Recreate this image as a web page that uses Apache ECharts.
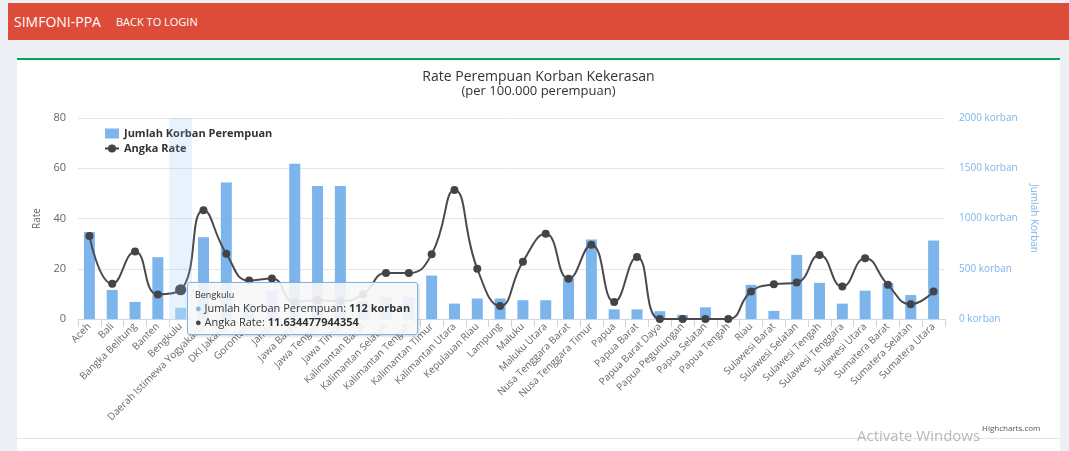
<!DOCTYPE html>
<html>
<head>
<meta charset="utf-8">
<title>Rate Perempuan Korban Kekerasan</title>
<script src="https://cdn.jsdelivr.net/npm/echarts@6/dist/echarts.min.js"></script>
<style>
    html, body { margin: 0; padding: 0; width: 1069px; height: 451px; overflow: hidden; background: #ecf0f5; font-family: "Open Sans", "Liberation Sans", sans-serif; }
    .topbar { position: absolute; left: 8px; top: 3px; width: 1061px; height: 37px; background: #dd4b39; color: #fff; }
    .topbar .brand { position: absolute; left: 6px; top: 9px; font-size: 14px; }
    .topbar .link { position: absolute; left: 108px; top: 11px; font-size: 11px; }
    .card { position: absolute; left: 17px; top: 58px; width: 1043px; height: 379px; background: #fff; border-top: 2px solid #00a65a; }
    .below { position: absolute; left: 17px; top: 438px; width: 1043px; height: 13px; background: #fff; border-top: 1px solid #e4e4e4; }
    #chart { position: absolute; left: 0; top: 0; width: 1043px; height: 379px; }
    .credit { position: absolute; left: 965px; top: 362px; font-size: 8px; color: #555; }
    .watermark { position: absolute; left: 857px; top: 425px; font-size: 15px; color: #b8b8b8; }
</style>
</head>
<body>
<div class="topbar"><span class="brand">SIMFONI-PPA</span><span class="link">BACK TO LOGIN</span></div>
<div class="card">
    <div id="chart"></div>
    <div class="credit">Highcharts.com</div>
</div>
<div class="below"></div>
<div class="watermark">Activate Windows</div>
<script>
// Provinces on the x axis
const provinces = [
    'Aceh', 'Bali', 'Bangka Belitung', 'Banten', 'Bengkulu', 'Daerah Istimewa Yogyakarta',
    'DKI Jakarta', 'Gorontalo', 'Jambi', 'Jawa Barat', 'Jawa Tengah', 'Jawa Timur',
    'Kalimantan Barat', 'Kalimantan Selatan', 'Kalimantan Tengah', 'Kalimantan Timur',
    'Kalimantan Utara', 'Kepulauan Riau', 'Lampung', 'Maluku', 'Maluku Utara',
    'Nusa Tenggara Barat', 'Nusa Tenggara Timur', 'Papua', 'Papua Barat', 'Papua Barat Daya',
    'Papua Pegunungan', 'Papua Selatan', 'Papua Tengah', 'Riau', 'Sulawesi Barat',
    'Sulawesi Selatan', 'Sulawesi Tengah', 'Sulawesi Tenggara', 'Sulawesi Utara',
    'Sumatera Barat', 'Sumatera Selatan', 'Sumatera Utara'
];

// Jumlah korban perempuan (bars, right axis)
const jumlahKorban = [
    865, 289, 170, 615, 112, 814, 1358, 150, 280, 1544, 1323, 1323,
    180, 220, 221, 432, 153, 204, 204, 187, 187, 407, 791, 96,
    96, 78, 41, 116, 0, 340, 81, 638, 360, 153, 282, 356, 238, 781
];

// Angka rate per 100.000 perempuan (line, left axis)
const angkaRate = [
    33.0, 14.0, 26.9, 9.8, 11.634477944354, 43.3, 26.0, 15.3, 16.1, 6.8, 7.5, 7.1,
    9.9, 18.3, 18.3, 25.8, 51.3, 20.0, 5.2, 22.8, 33.9, 16.0, 29.6, 6.8,
    24.7, 0, 0, 0, 0, 10.9, 13.8, 14.5, 25.5, 12.9, 24.2, 13.6, 5.9, 10.9
];

// Axis ticks
const rateTicks = { min: 0, max: 80, interval: 20 };
const korbanTicks = { min: 0, max: 2000, interval: 500 };

const highlightIndex = 4;

document.addEventListener('DOMContentLoaded', function() {
    const chart = echarts.init(document.getElementById('chart'));

    const options = {
        animation: false,
        textStyle: { fontFamily: '"Open Sans", "Liberation Sans", sans-serif' },
        title: {
            text: 'Rate Perempuan Korban Kekerasan',
            subtext: '(per 100.000 perempuan)',
            left: 'center',
            top: 5,
            itemGap: 1,
            textStyle: { fontSize: 14, fontWeight: 'normal', color: '#333' },
            subtextStyle: { fontSize: 13, color: '#333' }
        },
        legend: {
            orient: 'vertical',
            left: 82,
            top: 63,
            itemGap: 4,
            itemWidth: 14,
            itemHeight: 10,
            textStyle: { fontSize: 11, fontWeight: 'bold', color: '#333' },
            data: [
                { name: 'Jumlah Korban Perempuan', icon: 'rect' },
                { name: 'Angka Rate' }
            ]
        },
        tooltip: {
            trigger: 'axis',
            alwaysShowContent: true,
            axisPointer: {
                type: 'shadow',
                shadowStyle: { color: 'rgba(124, 181, 236, 0.18)' }
            },
            position: function() {
                return [170, 222];
            },
            backgroundColor: 'rgba(247, 247, 247, 0.9)',
            borderColor: '#7cb5ec',
            borderWidth: 1,
            padding: [5, 7],
            extraCssText: 'border-radius:3px;box-shadow:1px 1px 3px rgba(0,0,0,0.2);',
            formatter: function(params) {
                const i = params[0].dataIndex;
                return '<div style="font-size:9px;color:#333;line-height:13px">' + provinces[i] + '</div>' +
                    '<div style="font-size:11px;color:#333;line-height:14px"><span style="color:#7cb5ec">\u25CF</span> Jumlah Korban Perempuan: <b>' +
                    jumlahKorban[i] + ' korban</b></div>' +
                    '<div style="font-size:11px;color:#333;line-height:14px"><span style="color:#434348">\u25CF</span> Angka Rate: <b>' +
                    angkaRate[i] + '</b></div>';
            }
        },
        grid: {
            left: 61,
            right: 115,
            top: 58,
            bottom: 120
        },
        xAxis: {
            type: 'category',
            data: provinces,
            axisLine: { lineStyle: { color: '#ccd6eb' } },
            axisTick: { show: true, length: 8, lineStyle: { color: '#ccd6eb' } },
            axisLabel: { rotate: 45, interval: 0, fontSize: 10, color: '#666', margin: 6 }
        },
        yAxis: [
            {
                type: 'value',
                name: 'Rate',
                nameLocation: 'middle',
                nameRotate: 90,
                nameGap: 34,
                nameTextStyle: { fontSize: 10, color: '#666' },
                min: rateTicks.min,
                max: rateTicks.max,
                interval: rateTicks.interval,
                axisLabel: { fontSize: 11, color: '#666', margin: 12 },
                splitLine: { lineStyle: { color: '#e6e6e6' } }
            },
            {
                type: 'value',
                name: 'Jumlah Korban',
                position: 'right',
                nameLocation: 'middle',
                nameRotate: -90,
                nameGap: 70,
                nameTextStyle: { fontSize: 10, color: '#7cb5ec' },
                min: korbanTicks.min,
                max: korbanTicks.max,
                interval: korbanTicks.interval,
                axisLabel: {
                    fontSize: 10,
                    color: '#7cb5ec',
                    margin: 14,
                    formatter: function(v) { return v + ' korban'; }
                },
                splitLine: { show: false }
            }
        ],
        series: [
            {
                name: 'Jumlah Korban Perempuan',
                type: 'bar',
                yAxisIndex: 1,
                barWidth: 11,
                data: jumlahKorban.map(function(v, i) {
                    return i === highlightIndex ? { value: v, itemStyle: { color: '#a6d0f6' } } : v;
                }),
                itemStyle: { color: '#7cb5ec' },
                emphasis: { itemStyle: { color: '#a6d0f6' } }
            },
            {
                name: 'Angka Rate',
                type: 'line',
                yAxisIndex: 0,
                smooth: true,
                symbol: 'circle',
                symbolSize: 8,
                data: angkaRate,
                lineStyle: { color: '#434348', width: 2 },
                itemStyle: { color: '#434348' },
                emphasis: { scale: 1.4 }
            }
        ]
    };

    chart.setOption(options);
    chart.dispatchAction({ type: 'showTip', seriesIndex: 1, dataIndex: highlightIndex });

    window.addEventListener('resize', function() {
        chart.resize();
    });
});
</script>
</body>
</html>
